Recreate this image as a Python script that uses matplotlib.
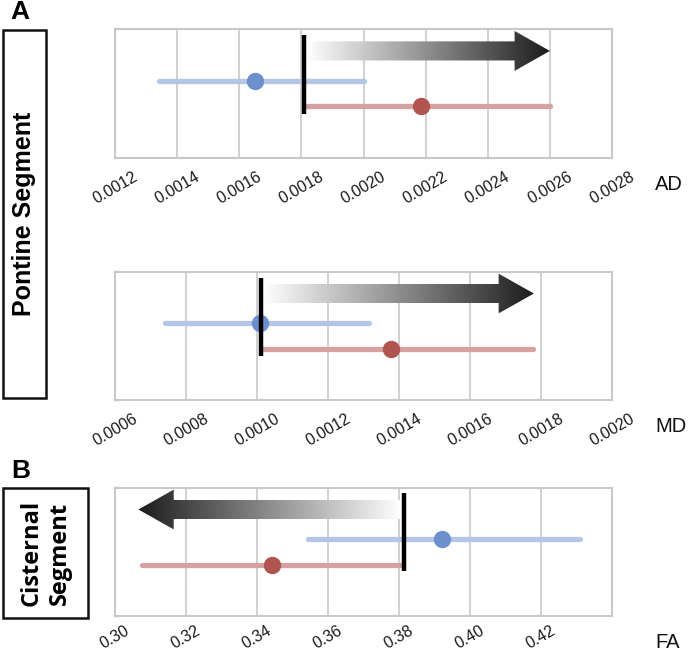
import numpy as np
import matplotlib
matplotlib.use("Agg")
import matplotlib.pyplot as plt
from matplotlib.patches import Polygon, Rectangle
from matplotlib.colors import LinearSegmentedColormap

plt.rcParams['font.family'] = ['Liberation Sans', 'DejaVu Sans']

# ---- data ----
metrics = ["AD", "MD", "FA"]
xlims = [(0.0012, 0.0028), (0.0006, 0.0020), (0.30, 0.44)]
xticks = [
    [0.0012, 0.0014, 0.0016, 0.0018, 0.0020, 0.0022, 0.0024, 0.0026, 0.0028],
    [0.0006, 0.0008, 0.0010, 0.0012, 0.0014, 0.0016, 0.0018, 0.0020],
    [0.30, 0.32, 0.34, 0.36, 0.38, 0.40, 0.42, 0.44],
]
ticklabels = [
    ["0.0012", "0.0014", "0.0016", "0.0018", "0.0020", "0.0022", "0.0024", "0.0026", "0.0028"],
    ["0.0006", "0.0008", "0.0010", "0.0012", "0.0014", "0.0016", "0.0018", "0.0020"],
    ["0.30", "0.32", "0.34", "0.36", "0.38", "0.40", "0.42", ""],
]
blue_mean = [0.00165, 0.001008, 0.3921]
blue_low = [0.001343, 0.000741, 0.3544]
blue_high = [0.00200, 0.001315, 0.4311]
red_mean = [0.002186, 0.001377, 0.3443]
red_low = [0.00181, 0.00101, 0.3075]
red_high = [0.00260, 0.001778, 0.3811]
threshold = [0.00181, 0.00101, 0.3813]
arrow_tip = [0.00260, 0.001780, 0.3066]

# ---- style ----
blue_line = "#b4c6e6"
blue_dot = "#6d8fcb"
red_line = "#d7a19f"
red_dot = "#b05450"
grid_col = "#c8c8c8"

fig = plt.figure(figsize=(6.89, 6.54), dpi=100)
W, H = 689, 654
axes_px = [(115, 29, 612, 158), (115, 271.7, 612, 400), (115, 487.7, 612, 616)]
pads = [8, 8, 5]

cmap = LinearSegmentedColormap.from_list("g", ["#ffffff", "#1c1c1c"])

for i, (x0, y0, x1, y1) in enumerate(axes_px):
    ax = fig.add_axes([x0 / W, 1 - y1 / H, (x1 - x0) / W, (y1 - y0) / H])
    lo, hi = xlims[i]
    ax.set_xlim(lo, hi)
    ax.set_ylim(0, 1)
    ax.set_yticks([])
    ax.set_xticks(xticks[i])
    ax.set_xticklabels(ticklabels[i], rotation=30, ha="center", fontsize=11.5, color="#1a1a1a")
    ax.tick_params(axis="x", length=0, pad=pads[i])
    ax.grid(True, axis="x", color=grid_col, linewidth=1.2)
    ax.set_axisbelow(True)
    for s in ax.spines.values():
        s.set_color(grid_col)
        s.set_linewidth(1.5)

    # confidence lines
    ax.plot([blue_low[i], blue_high[i]], [0.6, 0.6], color=blue_line, lw=3.8,
            solid_capstyle="round", zorder=2)
    ax.plot([red_low[i], red_high[i]], [0.4, 0.4], color=red_line, lw=3.8,
            solid_capstyle="round", zorder=2)
    ax.plot([blue_mean[i]], [0.6], "o", color=blue_dot, ms=11.5, zorder=3)
    ax.plot([red_mean[i]], [0.4], "o", color=red_dot, ms=11.5, zorder=3)

    # threshold line
    ytop, ybot = (0.95, 0.34) if i < 2 else (0.96, 0.35)
    ax.plot([threshold[i], threshold[i]], [ybot, ytop], color="black", lw=3.2,
            solid_capstyle="butt", zorder=5)

    # gradient arrow
    span = hi - lo
    head_len = 0.071 * span
    yc = 0.83
    bh = 0.074
    hh = 0.155
    start = threshold[i] + (0.004 * span if arrow_tip[i] > threshold[i] else -0.004 * span)
    tip = arrow_tip[i]
    d = 1 if tip > start else -1
    hb = tip - d * head_len
    verts = [(start, yc - bh), (hb, yc - bh), (hb, yc - hh), (tip, yc),
             (hb, yc + hh), (hb, yc + bh), (start, yc + bh)]
    poly = Polygon(verts, closed=True, facecolor="none", edgecolor="none")
    ax.add_patch(poly)
    grad = np.linspace(0, 1, 256).reshape(1, -1)
    if d < 0:
        grad = grad[:, ::-1]
    ext = [min(start, tip), max(start, tip), yc - hh, yc + hh]
    im = ax.imshow(grad, cmap=cmap, extent=ext, aspect="auto", zorder=4,
                   interpolation="bilinear")
    im.set_clip_path(poly)
    ax.set_xlim(lo, hi)
    ax.set_ylim(0, 1)

    # metric label
    ax.text(1.087, -27 / (y1 - y0), metrics[i], transform=ax.transAxes,
            ha="left", va="center", fontsize=14.5, color="#111111")

# Panel letters
fig.text(10 / W, 1 - 12 / H, "A", fontsize=19, fontweight="bold", va="center", ha="left")
fig.text(11 / W, 1 - 471 / H, "B", fontsize=19, fontweight="bold", va="center", ha="left")

# Boxes with labels
box1 = Rectangle((3 / W, 1 - 398 / H), 43 / W, 368 / H, transform=fig.transFigure,
                 facecolor="none", edgecolor="#111111", lw=1.8)
fig.add_artist(box1)
fig.text(24.5 / W, 1 - 214 / H, "Pontine Segment", rotation=90, fontsize=18,
         fontweight="bold", ha="center", va="center")

box2 = Rectangle((3 / W, 1 - 618 / H), 85 / W, 130 / H, transform=fig.transFigure,
                 facecolor="none", edgecolor="#111111", lw=1.8)
fig.add_artist(box2)
fig.text(45.5 / W, 1 - 553 / H, "Cisternal\nSegment", rotation=90, fontsize=17,
         fontweight="bold", ha="center", va="center", linespacing=1.25,
         family=["Open Sans", "DejaVu Sans"])

fig.savefig("out.png", dpi=100)
